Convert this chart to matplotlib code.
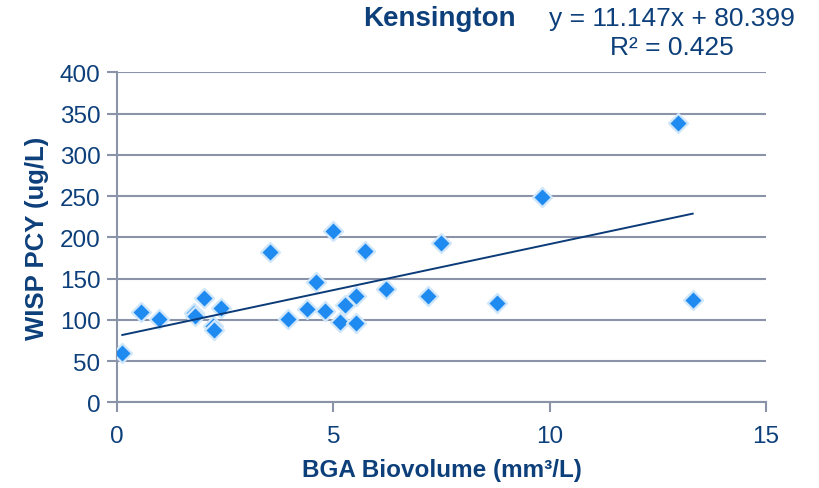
import numpy as np
import matplotlib.pyplot as plt

plt.rcParams['font.family'] = ['Liberation Sans', 'DejaVu Sans']

# BGA biovolume (mm3/L) vs WISP phycocyanin (ug/L), Kensington
bga = [0.12, 0.56, 0.97, 1.77, 1.80, 2.00, 2.22, 2.24, 2.40, 3.53, 3.96,
       4.40, 4.60, 4.81, 5.00, 5.16, 5.28, 5.53, 5.53, 5.74, 6.21, 7.20,
       7.49, 8.78, 9.82, 12.97, 13.31]
pcy = [60, 109, 101, 108, 105, 126, 93, 88, 114, 182, 101,
       113, 146, 111, 208, 97, 118, 129, 96, 183, 138, 129,
       193, 121, 249, 339, 124]

slope, intercept = 11.147, 80.399
r2 = 0.425

text_col = '#0d3f7a'
grid_col = '#8a93a8'

fig = plt.figure(figsize=(8.19, 4.89), dpi=100)
ax = fig.add_axes([0.143, 0.175, 0.792, 0.675])

ax.set_xlim(0, 15)
ax.set_ylim(0, 400)
ax.set_xticks([0, 5, 10, 15])
ax.set_yticks(np.arange(0, 401, 50))
ax.yaxis.grid(True, color=grid_col, linewidth=1.5)
ax.set_axisbelow(True)

for side in ['top', 'right']:
    ax.spines[side].set_visible(False)
for side in ['left', 'bottom']:
    ax.spines[side].set_color(grid_col)
    ax.spines[side].set_linewidth(1.5)
ax.tick_params(colors=grid_col, width=1.5, length=7, labelsize=17.5,
               labelcolor=text_col, pad=5)
ax.tick_params(axis='x', pad=9)

# data points with a pale halo
ax.scatter(bga, pcy, marker='D', s=95, color='#1f8bf0',
           edgecolors='#cfe6fb', linewidths=1.6, zorder=3)

# linear trendline over the data range
xs = np.array([min(bga), max(bga)])
ax.plot(xs, slope * xs + intercept, color='#0b3b78', linewidth=1.4, zorder=4)

ax.set_xlabel('BGA Biovolume (mm³/L)', fontsize=17.5, fontweight='bold',
              color=text_col, labelpad=8)
ax.set_ylabel('WISP PCY (ug/L)', fontsize=18.5, fontweight='bold',
              color=text_col, labelpad=8)

fig.text(0.537, 0.962, 'Kensington', fontsize=20, fontweight='bold',
         color=text_col, ha='center', va='center')
fig.text(0.82, 0.962, f'y = {slope}x + {intercept}', fontsize=19,
         color=text_col, ha='center', va='center')
fig.text(0.82, 0.902, f'R² = {r2}', fontsize=19,
         color=text_col, ha='center', va='center')

fig.savefig('out.png', dpi=100, facecolor='white')
